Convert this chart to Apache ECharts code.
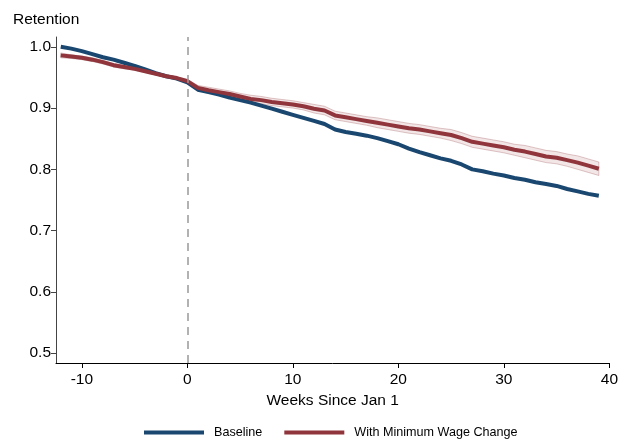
<!DOCTYPE html>
<html><head><meta charset="utf-8">
<script src="https://cdn.jsdelivr.net/npm/echarts@6/dist/echarts.min.js"></script>
<style>html,body{margin:0;padding:0;background:#fff}#c{width:621px;height:440px}</style>
</head><body><div id="c"></div>
<script>
const weeks = [-12,-11,-10,-9,-8,-7,-6,-5,-4,-3,-2,-1,0,1,2,3,4,5,6,7,8,9,10,11,12,13,14,15,16,17,18,19,20,21,22,23,24,25,26,27,28,29,30,31,32,33,34,35,36,37,38,39];
const baseline = [1.000,0.997,0.993,0.988,0.983,0.979,0.974,0.969,0.963,0.957,0.952,0.948,0.942,0.930,0.926,0.922,0.917,0.913,0.909,0.904,0.899,0.894,0.889,0.884,0.879,0.874,0.865,0.861,0.858,0.855,0.851,0.846,0.841,0.834,0.828,0.823,0.818,0.814,0.808,0.800,0.797,0.793,0.790,0.786,0.783,0.779,0.776,0.773,0.768,0.764,0.760,0.757];
const minWage = [0.986,0.984,0.982,0.979,0.975,0.970,0.967,0.964,0.960,0.956,0.952,0.949,0.944,0.933,0.929,0.926,0.923,0.919,0.915,0.913,0.910,0.908,0.906,0.903,0.899,0.896,0.888,0.885,0.882,0.879,0.876,0.873,0.870,0.867,0.865,0.862,0.859,0.856,0.851,0.845,0.842,0.839,0.836,0.832,0.829,0.825,0.821,0.819,0.815,0.811,0.806,0.801];
const ciHalf = [0.004,0.003,0.003,0.003,0.003,0.003,0.003,0.002,0.002,0.002,0.002,0.002,0.003,0.004,0.005,0.005,0.005,0.005,0.006,0.006,0.006,0.006,0.006,0.006,0.007,0.007,0.007,0.007,0.007,0.007,0.008,0.008,0.008,0.008,0.008,0.008,0.008,0.009,0.009,0.009,0.009,0.009,0.009,0.009,0.010,0.010,0.010,0.010,0.010,0.011,0.011,0.011];
const xTicks = [-10,0,10,20,30,40];
const yTicks = [0.5,0.6,0.7,0.8,0.9,1.0];

const ciLow = weeks.map((w,i)=>[w, minWage[i]-ciHalf[i]]);
const ciHigh = weeks.map((w,i)=>[w, minWage[i]+ciHalf[i]]);
const blue = '#1a476f', red = '#90353b';
const font = 'Liberation Sans, Arial, Helvetica, sans-serif';
const fs = 15.5;

const chart = echarts.init(document.getElementById('c'), null, {renderer:'canvas'});
chart.setOption({
  animation:false,
  backgroundColor:'#fff',
  title:{text:'Retention', left:8, top:7, textStyle:{fontFamily:font, fontSize:fs, fontWeight:'normal', color:'#000'}},
  grid:{left:56, right:10, top:37, bottom:77},
  legend:{
    top:421, left:139, itemWidth:60, itemHeight:4, icon:'rect', itemGap:22,
    data:['Baseline','With Minimum Wage Change'],
    textStyle:{fontFamily:font, fontSize:12.6, color:'#000', padding:[0,0,0,5]}
  },
  xAxis:{
    type:'value', min:-12.45, max:40,
    name:'Weeks Since Jan 1', nameLocation:'middle', nameGap:28,
    nameTextStyle:{fontFamily:font, fontSize:fs, color:'#000'},
    axisLine:{show:true, onZero:false, lineStyle:{color:'#000', width:1}},
    axisTick:{show:true, inside:false, length:5, lineStyle:{color:'#000'}, customValues:xTicks},
    axisLabel:{fontFamily:font, fontSize:fs, color:'#000', margin:9, customValues:xTicks},
    splitLine:{show:false}
  },
  yAxis:{
    type:'value', min:0.484, max:1.016,
    axisLine:{show:true, onZero:false, lineStyle:{color:'#444', width:1}},
    axisTick:{show:true, inside:false, length:5, lineStyle:{color:'#444'}, customValues:yTicks},
    axisLabel:{fontFamily:font, fontSize:fs, color:'#000', margin:5, customValues:yTicks, formatter:v=>v.toFixed(1)},
    splitLine:{show:false}
  },
  series:[
    {name:'ciBand', type:'custom', silent:true, data:[0], z:1,
     renderItem:function(params, api){
       const pts = [];
       for (let i=0;i<ciHigh.length;i++) pts.push(api.coord(ciHigh[i]));
       for (let i=ciLow.length-1;i>=0;i--) pts.push(api.coord(ciLow[i]));
       return {type:'polygon', shape:{points:pts},
               style:{fill:'rgba(144,53,59,0.12)', stroke:'rgba(144,53,59,0.28)', lineWidth:1}};
     }},
    {name:'Baseline', type:'line', data:weeks.map((w,i)=>[w,baseline[i]]), symbol:'none', z:3,
     lineStyle:{color:blue, width:4}, itemStyle:{color:blue},
     markLine:{symbol:'none', silent:true, label:{show:false},
       lineStyle:{color:'#999', type:[8,6], width:1.5}, data:[{xAxis:0}]}},
    {name:'With Minimum Wage Change', type:'line', data:weeks.map((w,i)=>[w,minWage[i]]), symbol:'none', z:4,
     lineStyle:{color:red, width:4}, itemStyle:{color:red}}
  ]
});
</script></body></html>
